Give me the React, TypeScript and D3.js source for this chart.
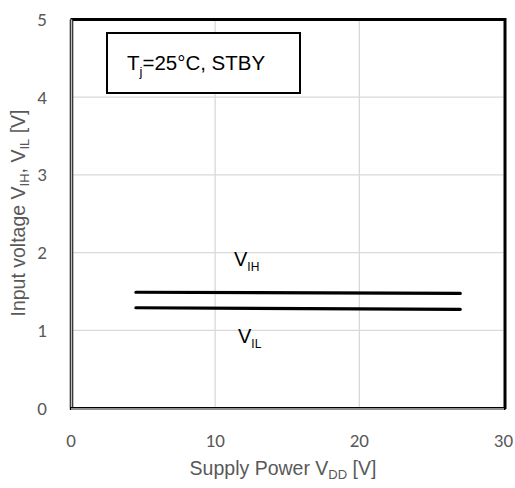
import React from "react";
import * as d3 from "d3";

// Supply voltage sweep points [V]
const vdd = [4.5, 27];
// Input threshold voltages [V]
const vih = [1.49, 1.475];
const vil = [1.29, 1.27];
const xTicks = [0, 10, 20, 30];
const yTicks = [0, 1, 2, 3, 4, 5];

const W = 515;
const H = 488;
const left = 71;
const right = 503.5;
const top = 19.5;
const bottom = 408;

export default function App() {
  const x = d3.scaleLinear().domain([0, 30]).range([left, right]);
  const y = d3.scaleLinear().domain([0, 5]).range([bottom, top]);
  const line = d3
    .line<[number, number]>()
    .x((d) => x(d[0]))
    .y((d) => y(d[1]));
  const ptsH = vdd.map((v, i) => [v, vih[i]] as [number, number]);
  const ptsL = vdd.map((v, i) => [v, vil[i]] as [number, number]);
  const tickFont = "Carlito, Calibri, 'Open Sans', sans-serif";
  const arial = "'Liberation Sans', Arial, sans-serif";

  return (
    <svg
      width={W}
      height={H}
      style={{ position: "absolute", left: 0, top: 0, background: "#fff" }}
    >
      {/* gridlines */}
      {xTicks.slice(1, -1).map((t) => (
        <line key={"gx" + t} x1={x(t)} x2={x(t)} y1={top} y2={bottom} stroke="#d9d9d9" strokeWidth={1.3} />
      ))}
      {yTicks.slice(1, -1).map((t) => (
        <line key={"gy" + t} x1={left} x2={right} y1={y(t)} y2={y(t)} stroke="#d9d9d9" strokeWidth={1.3} />
      ))}

      {/* plot frame */}
      <line x1={left - 0.5} x2={right + 1.5} y1={top} y2={top} stroke="#000" strokeWidth={3} />
      <line x1={right + 1.5} x2={right + 1.5} y1={top - 1.5} y2={bottom + 1} stroke="#000" strokeWidth={3} />
      <line x1={left + 0.5} x2={left + 0.5} y1={top} y2={bottom + 1.5} stroke="#000" strokeWidth={3.5} />
      <line x1={left + 0.5} x2={left + 0.5} y1={top} y2={bottom + 1} stroke="#bfbfbf" strokeWidth={1.6} />
      <line x1={left - 1} x2={right + 2} y1={bottom + 0.5} y2={bottom + 0.5} stroke="#000" strokeWidth={3.2} />
      <line x1={left} x2={right + 0.5} y1={bottom + 1} y2={bottom + 1} stroke="#bfbfbf" strokeWidth={1.6} />

      {/* data */}
      <path d={line(ptsH) ?? ""} fill="none" stroke="#000" strokeWidth={3.2} strokeLinecap="round" />
      <path d={line(ptsL) ?? ""} fill="none" stroke="#000" strokeWidth={3.2} strokeLinecap="round" />

      {/* series labels */}
      <text x={234} y={266} fontFamily={arial} fontSize={20} fill="#000">
        V<tspan fontSize={12} dy={5}>IH</tspan>
      </text>
      <text x={238} y={343} fontFamily={arial} fontSize={20} fill="#000">
        V<tspan fontSize={12} dy={5}>IL</tspan>
      </text>

      {/* condition box */}
      <rect x={107} y={33} width={193} height={60} fill="#fff" stroke="#000" strokeWidth={2} />
      <text x={127} y={70} fontFamily={arial} fontSize={20.5} fill="#000">
        T<tspan fontSize={13} dy={6}>j</tspan>
        <tspan dy={-6}>=25°C, STBY</tspan>
      </text>

      {/* tick labels */}
      {yTicks.map((t) => (
        <text key={"ty" + t} x={47} y={y(t) + 6.5} textAnchor="end" fontFamily={tickFont} fontSize={19} fill="#595959">
          {t}
        </text>
      ))}
      {xTicks.map((t) => (
        <text key={"tx" + t} x={x(t)} y={447} textAnchor="middle" fontFamily={tickFont} fontSize={19} fill="#595959">
          {t}
        </text>
      ))}

      {/* axis titles */}
      <text x={283} y={475} textAnchor="middle" fontFamily={arial} fontSize={19.5} fill="#595959">
        Supply Power V<tspan fontSize={13} dy={4}>DD</tspan>
        <tspan dy={-4}> [V]</tspan>
      </text>
      <text
        transform={`translate(25, ${213}) rotate(-90)`}
        textAnchor="middle"
        fontFamily={arial}
        fontSize={19.5}
        fill="#595959"
      >
        Input voltage V<tspan fontSize={13} dy={4}>IH</tspan>
        <tspan dy={-4}>, V</tspan>
        <tspan fontSize={13} dy={4}>IL</tspan>
        <tspan dy={-4}> [V]</tspan>
      </text>
    </svg>
  );
}
